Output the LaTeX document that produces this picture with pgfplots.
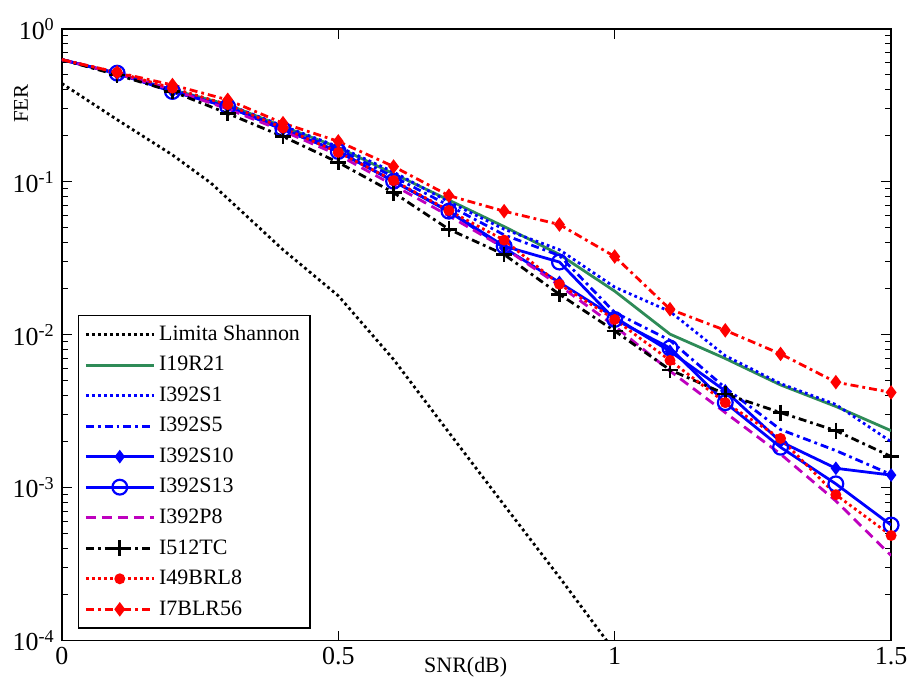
\documentclass[border=0pt]{standalone}
\usepackage{fontspec}
\setmainfont{Liberation Serif}
\usepackage{pgfplots}
\pgfplotsset{compat=1.18}
\definecolor{mgreen}{RGB}{46,139,87}
\definecolor{mblue}{RGB}{0,0,255}
\definecolor{mpurple}{RGB}{190,0,190}
\definecolor{mred}{RGB}{255,0,0}
\begin{document}
\begin{tikzpicture}
\begin{axis}[
  scale only axis,
  width=415.5pt, height=306.5pt,
  xmin=0, xmax=1.5,
  ymode=log, ymin=1e-4, ymax=1,
  xtick={0,0.5,1,1.5},
  xticklabels={0,0.5,1,1.5},
  ytick={1e-4,1e-3,1e-2,1e-1,1},
  yticklabels={10\textsuperscript{-4},10\textsuperscript{-3},10\textsuperscript{-2},10\textsuperscript{-1},10\textsuperscript{0}},
  ticklabel style={font=\fontsize{13}{15}\selectfont},
  major tick length=5pt, minor tick length=3pt,
  tick style={black, line width=0.5pt},
  axis line style={line width=0.7pt},
  /pgf/number format/assume math mode=true,
  xlabel={SNR(dB)},
  ylabel={FER},
  xlabel style={font=\fontsize{11}{13}\selectfont, at={(axis description cs:0.487,0)}, anchor=north, yshift=-5pt},
  ylabel style={font=\fontsize{10.5}{12}\selectfont, at={(axis description cs:-0.0493,0.878)}, anchor=center, rotate=0},
  legend style={at={(0.0193,0.0196)}, anchor=south west, draw=black, line width=0.6pt,
    font=\fontsize{11}{13}\selectfont, row sep=2.5pt, inner sep=3pt,
    /tikz/every even column/.append style={column sep=2pt}},
  legend cell align=left,
  legend image code/.code={\draw[mark indices={2}] plot coordinates {(0pt,0pt)(17pt,0pt)(34pt,0pt)};},
  every axis plot/.append style={line width=1.4pt},
  clip=true,
]
% Limita Shannon
\addplot[black, dash pattern=on 1.4pt off 1.6pt] coordinates {
 (0,0.44) (0.1,0.255) (0.2,0.15) (0.27,0.098) (0.4,0.036) (0.5,0.018) (0.6,0.0069) (0.7,0.0023) (0.8,0.00077) (0.9,0.00026) (1.0,0.000085)};
\addlegendentry{Limita Shannon}
% I19R21
\addplot[mgreen] coordinates {
 (0,0.63) (0.1,0.51) (0.2,0.40) (0.3,0.32) (0.4,0.23) (0.5,0.168) (0.6,0.113) (0.7,0.076) (0.8,0.051) (0.9,0.0335) (1.0,0.0193) (1.1,0.0101) (1.2,0.0070) (1.3,0.0047) (1.4,0.0034) (1.5,0.00236)};
\addlegendentry{I19R21}
% I392S1
\addplot[mblue, dash pattern=on 1.4pt off 1.6pt] coordinates {
 (0,0.63) (0.1,0.51) (0.2,0.40) (0.3,0.32) (0.4,0.232) (0.5,0.17) (0.6,0.116) (0.7,0.074) (0.8,0.049) (0.9,0.036) (1.0,0.0205) (1.1,0.0142) (1.2,0.0073) (1.3,0.0048) (1.4,0.0035) (1.5,0.0020)};
\addlegendentry{I392S1}
% I392S5
\addplot[mblue, dash pattern=on 4pt off 2pt on 1.4pt off 2pt] coordinates {
 (0,0.63) (0.1,0.51) (0.2,0.40) (0.3,0.31) (0.4,0.225) (0.5,0.163) (0.6,0.108) (0.7,0.070) (0.8,0.045) (0.9,0.033) (1.0,0.0140) (1.1,0.0092) (1.2,0.0045) (1.3,0.0024) (1.4,0.00175) (1.5,0.00122)};
\addlegendentry{I392S5}
% I392S10
\addplot[mblue, mark=diamond*, mark size=2.8pt, mark indices={2,...,16}, mark options={solid, fill=mblue, line width=0.8pt}] coordinates {
 (0,0.63) (0.1,0.51) (0.2,0.39) (0.3,0.31) (0.4,0.22) (0.5,0.158) (0.6,0.101) (0.7,0.064) (0.8,0.037) (0.9,0.022) (1.0,0.0130) (1.1,0.0078) (1.2,0.0043) (1.3,0.0020) (1.4,0.00134) (1.5,0.00121)};
\addlegendentry{I392S10}
% I392S13
\addplot[mblue, mark=o, mark size=3.7pt, mark indices={2,...,16}, mark options={solid, line width=1.1pt}] coordinates {
 (0,0.63) (0.1,0.514) (0.2,0.39) (0.3,0.31) (0.4,0.22) (0.5,0.158) (0.6,0.101) (0.7,0.0643) (0.8,0.038) (0.9,0.0299) (1.0,0.0126) (1.1,0.0082) (1.2,0.0036) (1.3,0.00184) (1.4,0.00106) (1.5,0.00057)};
\addlegendentry{I392S13}
% I392P8
\addplot[mpurple, dash pattern=on 5pt off 3pt] coordinates {
 (0,0.63) (0.1,0.51) (0.2,0.40) (0.3,0.30) (0.4,0.215) (0.5,0.15) (0.6,0.095) (0.7,0.060) (0.8,0.037) (0.9,0.021) (1.0,0.0114) (1.1,0.0058) (1.2,0.0031) (1.3,0.00166) (1.4,0.00082) (1.5,0.00036)};
\addlegendentry{I392P8}
% I512TC
\addplot[black, dash pattern=on 4pt off 2pt on 1.4pt off 2pt, mark=+, mark size=4pt, mark indices={2,...,16}, mark options={solid, line width=1.3pt}] coordinates {
 (0,0.63) (0.1,0.50) (0.2,0.39) (0.3,0.28) (0.4,0.198) (0.5,0.134) (0.6,0.085) (0.7,0.049) (0.8,0.0335) (0.9,0.0184) (1.0,0.0106) (1.1,0.0059) (1.2,0.0041) (1.3,0.0031) (1.4,0.00236) (1.5,0.0016)};
\addlegendentry{I512TC}
% I49BRL8
\addplot[mred, dash pattern=on 1.4pt off 1.6pt, mark=*, mark size=2pt, mark indices={2,...,16}, mark options={solid, fill=mred}] coordinates {
 (0,0.63) (0.1,0.52) (0.2,0.41) (0.3,0.32) (0.4,0.225) (0.5,0.156) (0.6,0.102) (0.7,0.065) (0.8,0.0416) (0.9,0.0214) (1.0,0.0126) (1.1,0.0068) (1.2,0.0036) (1.3,0.0021) (1.4,0.00090) (1.5,0.000487)};
\addlegendentry{I49BRL8}
% I7BLR56
\addplot[mred, dash pattern=on 4pt off 2pt on 1.4pt off 2pt, mark=diamond*, mark size=3pt, mark indices={2,...,16}, mark options={solid, fill=mred, line width=0.8pt}] coordinates {
 (0,0.63) (0.1,0.52) (0.2,0.43) (0.3,0.344) (0.4,0.242) (0.5,0.184) (0.6,0.126) (0.7,0.0813) (0.8,0.0643) (0.9,0.0526) (1.0,0.0325) (1.1,0.0147) (1.2,0.0107) (1.3,0.0075) (1.4,0.0049) (1.5,0.0042)};
\addlegendentry{I7BLR56}
\end{axis}
\path ([shift={(-31pt,-19.5pt)}]current axis.south west) rectangle ([shift={(10.5pt,14.5pt)}]current axis.north east);
\end{tikzpicture}
\end{document}
